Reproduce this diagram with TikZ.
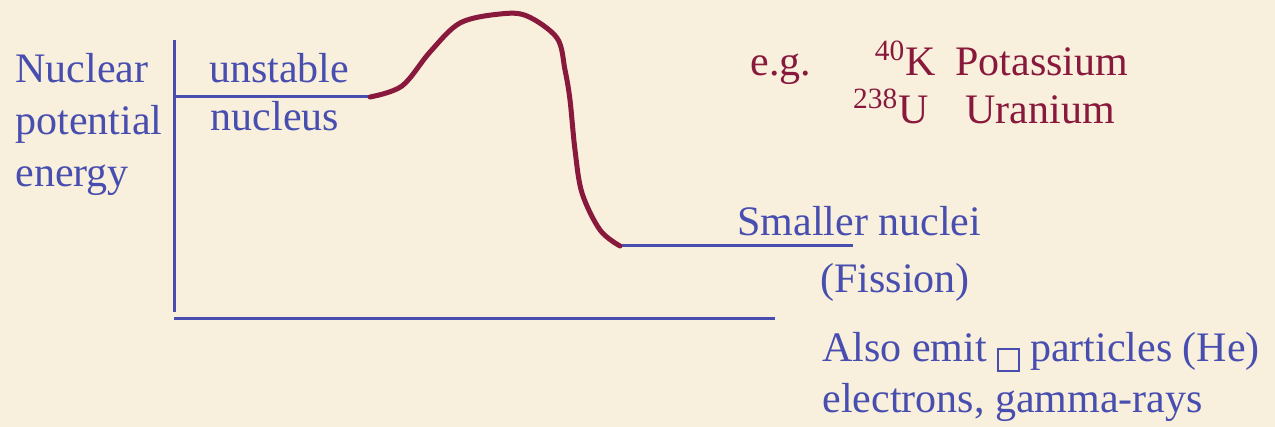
\documentclass[tikz,border=0pt]{standalone}
\usepackage{fontspec}
\setmainfont{LiberationSerif}[Extension=.ttf,UprightFont=*-Regular]
\definecolor{paper}{RGB}{248,239,220}
\definecolor{lvlblue}{RGB}{72,78,176}
\definecolor{humpred}{RGB}{136,24,60}
% stands for the glyph the source could not show
\newcommand{\nobox}{\raisebox{-4pt}{\setlength{\fboxsep}{0pt}\setlength{\fboxrule}{0.8pt}\fbox{\rule{0pt}{10pt}\rule{9.5pt}{0pt}}}}
\begin{document}
\begin{tikzpicture}[x=0.5pt,y=-0.5pt,
		lbl/.style={inner sep=0pt,anchor=base west,text=lvlblue,font=\rmfamily\fontsize{21}{26}\selectfont},
		ex/.style={lbl,text=humpred},
		lvl/.style={draw=lvlblue,line width=1.5pt}]
	\fill[paper] (0,0) rectangle (1275,427);
	\useasboundingbox (0,0) rectangle (1275,427);
	% axes
	\coordinate (ytop) at (174,40);
	\coordinate (ybot) at (174,312);
	\coordinate (xl) at (174,319);
	\coordinate (xr) at (775,319);
	\draw[lvl] (ytop)--(ybot) (xl)--(xr);
	% energy levels
	\coordinate (ua) at (174,97);
	\coordinate (ub) at (370,97);
	\coordinate (sa) at (620,246);
	\coordinate (sb) at (853,246);
	\draw[lvl] (ua)--(ub) (sa)--(sb);
	\draw[humpred,line width=2.5pt,line cap=round] plot[smooth,tension=0.55] coordinates {
		(ub) (402,86) (430,52) (460,23) (500,14) (527,16) (557,38)
		(565,70) (570,100) (575,150) (582,193) (600,230) (sa)};
	% labels
	\node[lbl] (ax1) at (15,83) {Nuclear};
	\node[lbl] (ax2) at (15,135) {potential};
	\node[lbl] (ax3) at (15,187) {energy};
	\node[lbl,anchor=base] (un1) at (279,83) {unstable};
	\node[lbl,anchor=base] (un2) at (275,131) {nucleus};
	\node[ex] (eg) at (750,76) {e.g.};
	\node[ex,anchor=base east] (kk) at (936,76) {\textsuperscript{40}K};
	\node[ex] (kn) at (955,76) {Potassium};
	\node[ex,anchor=base east] (uu) at (929,124) {\textsuperscript{238}U};
	\node[ex] (un) at (965,124) {Uranium};
	\node[lbl] (sm1) at (737,236) {Smaller nuclei};
	\node[lbl] (sm2) at (820,293) {(Fission)};
	\node[lbl] (em1) at (822,362) {Also emit \nobox{} particles (He)};
	\node[lbl] (em2) at (822,412) {electrons, gamma-rays};
\end{tikzpicture}
\end{document}
